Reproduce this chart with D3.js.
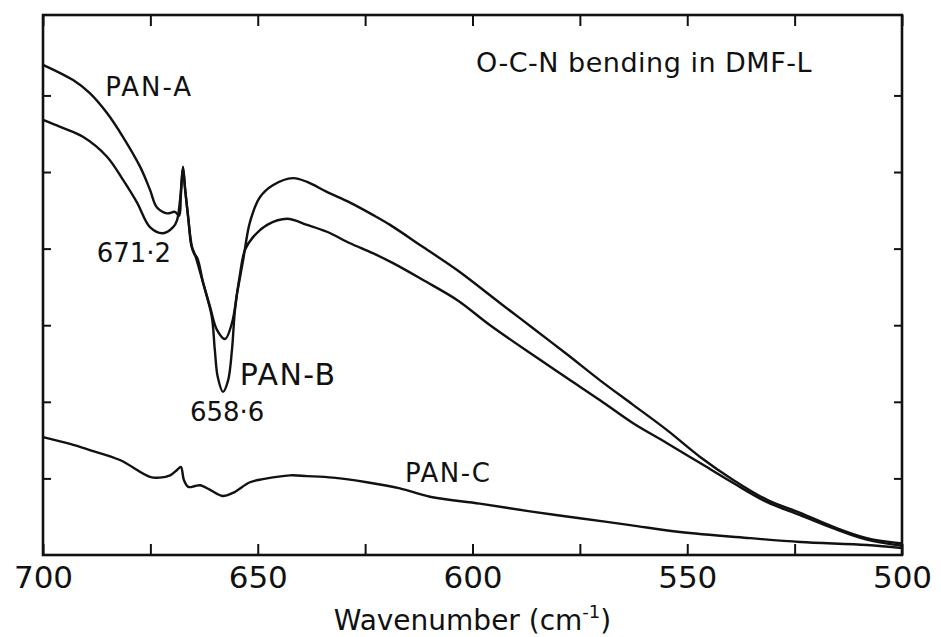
<!DOCTYPE html>
<html>
<head>
<meta charset="utf-8">
<script src="https://cdn.jsdelivr.net/npm/d3@7/dist/d3.min.js"></script>
<style>
  html, body { margin: 0; padding: 0; background: #fff; }
  svg { display: block; }
  text { font-family: "DejaVu Sans", sans-serif; fill: #111; }
</style>
</head>
<body>
<svg id="chart" width="941" height="637"></svg>
<script>
// ---- data (wavenumber in cm^-1, relative transmittance, arbitrary units) ----
const panA_wn  = [700, 693.0, 689.1, 685.1, 681.4, 677.4, 675.1, 673.5, 671.1, 669.3, 668.3, 667.9, 667.4, 666.9, 666.2, 665.3, 664.6, 662.7, 661.1, 659.5, 657.6, 656.0, 654.8, 653.4, 651.8, 649.5, 646.4, 641.8, 638.5, 633.9, 628.5, 623.2, 619.2, 611.5, 603.6, 593.6, 585.9, 578.0, 570.3, 562.6, 554.7, 547.0, 539.3, 531.4, 523.7, 516.1, 508.2, 500];
const panA_val = [6.40, 6.20, 6.03, 5.77, 5.46, 5.07, 4.77, 4.54, 4.46, 4.48, 4.43, 4.70, 5.07, 4.77, 4.41, 4.02, 3.92, 3.55, 3.24, 2.94, 2.82, 3.03, 3.42, 3.85, 4.35, 4.67, 4.83, 4.92, 4.87, 4.74, 4.60, 4.44, 4.31, 4.02, 3.72, 3.29, 2.96, 2.62, 2.28, 1.96, 1.63, 1.28, 0.98, 0.72, 0.55, 0.37, 0.22, 0.15];

const panB_wn  = [700, 696.0, 690.7, 685.1, 681.4, 678.1, 675.1, 672.1, 669.7, 668.8, 668.1, 667.4, 666.9, 666.2, 665.5, 664.8, 664.1, 662.7, 660.7, 660.0, 659.3, 658.1, 656.9, 656.0, 655.3, 654.1, 653.0, 651.1, 647.8, 643.2, 638.5, 633.9, 628.5, 623.2, 618.5, 611.5, 603.6, 595.9, 585.9, 578.0, 570.3, 562.6, 554.7, 547.0, 539.3, 531.4, 523.7, 516.1, 508.2, 500];
const panB_val = [5.68, 5.59, 5.46, 5.20, 4.90, 4.60, 4.28, 4.20, 4.28, 4.37, 4.63, 5.04, 4.77, 4.41, 4.05, 3.93, 3.88, 3.55, 3.11, 2.68, 2.32, 2.13, 2.28, 2.68, 3.20, 3.68, 3.98, 4.15, 4.31, 4.39, 4.31, 4.22, 4.07, 3.94, 3.81, 3.59, 3.33, 3.00, 2.61, 2.31, 2.02, 1.72, 1.46, 1.20, 0.94, 0.69, 0.52, 0.35, 0.20, 0.12];

const panC_wn  = [700, 693.7, 689.1, 682.1, 675.1, 672.8, 670.4, 668.8, 667.9, 667.2, 666.2, 664.6, 663.4, 661.1, 658.1, 655.8, 651.8, 648.8, 642.5, 638.5, 632.5, 624.6, 616.9, 609.9, 598.3, 586.6, 575.0, 563.3, 551.7, 535.4, 523.7, 508.2, 500];
const panC_val = [1.54, 1.45, 1.37, 1.24, 1.02, 1.01, 1.04, 1.11, 1.15, 0.98, 0.89, 0.90, 0.91, 0.85, 0.77, 0.81, 0.95, 0.99, 1.04, 1.03, 1.01, 0.95, 0.87, 0.76, 0.67, 0.57, 0.48, 0.39, 0.30, 0.22, 0.17, 0.13, 0.09];

const xTicks = [700, 675, 650, 625, 600, 575, 550, 525, 500];
const xTickLabels = ["700", "", "650", "", "600", "", "550", "", "500"];
const yTicks = [1, 2, 3, 4, 5, 6];

const seriesNames = ["PAN-A", "PAN-B", "PAN-C"];
const title = "O-C-N bending in DMF-L";
const peakLabels = ["671·2", "658·6"];

// ---- layout ----
const svg = d3.select("#chart");
const L = 43, R = 902, T = 15, B = 555;

const x = d3.scaleLinear().domain([700, 500]).range([L, R]);
const y = d3.scaleLinear().domain([0, 7.05]).range([B, T]);

const series = [
  panA_wn.map((w, i) => [w, panA_val[i]]),
  panB_wn.map((w, i) => [w, panB_val[i]]),
  panC_wn.map((w, i) => [w, panC_val[i]])
];

const line = d3.line()
  .x(d => x(d[0]))
  .y(d => y(d[1]))
  .curve(d3.curveCatmullRom.alpha(0.5));

svg.append("g")
  .selectAll("path")
  .data(series)
  .join("path")
  .attr("d", line)
  .attr("fill", "none")
  .attr("stroke", "#111")
  .attr("stroke-width", 2.4)
  .attr("stroke-linejoin", "round");

// axes
const fmt = (d) => xTickLabels[xTicks.indexOf(d)];
const xb = svg.append("g").attr("transform", `translate(0,${B})`)
  .call(d3.axisBottom(x).tickValues(xTicks).tickSize(-11).tickPadding(11).tickFormat(fmt));
const xt = svg.append("g").attr("transform", `translate(0,${T})`)
  .call(d3.axisTop(x).tickValues(xTicks).tickSize(-11).tickFormat(""));
const yl = svg.append("g").attr("transform", `translate(${L},0)`)
  .call(d3.axisLeft(y).tickValues(yTicks).tickSize(-8).tickFormat(""));
const yr = svg.append("g").attr("transform", `translate(${R},0)`)
  .call(d3.axisRight(y).tickValues(yTicks).tickSize(-8).tickFormat(""));

[xb, xt, yl, yr].forEach(g => {
  g.select(".domain").remove();
  g.selectAll(".tick line").attr("stroke", "#111").attr("stroke-width", 2);
});
xb.selectAll(".tick text")
  .attr("font-size", 31)
  .attr("font-family", "DejaVu Sans")
  .attr("fill", "#111");

// frame
svg.append("rect")
  .attr("x", L).attr("y", T)
  .attr("width", R - L).attr("height", B - T)
  .attr("fill", "none")
  .attr("stroke", "#111")
  .attr("stroke-width", 2.6);

// annotations
const ann = svg.append("g");
ann.append("text").attr("x", x(685.5)).attr("y", y(5.99)).attr("font-size", 26).attr("letter-spacing", 2).text(seriesNames[0]);
ann.append("text").attr("x", x(654.2)).attr("y", y(2.22)).attr("font-size", 30).attr("letter-spacing", 1.5).text(seriesNames[1]);
ann.append("text").attr("x", x(615.7)).attr("y", y(0.95)).attr("font-size", 26).attr("letter-spacing", 1.5).text(seriesNames[2]);
ann.append("text").attr("x", x(687.5)).attr("y", y(3.82)).attr("font-size", 26).text(peakLabels[0]);
ann.append("text").attr("x", x(665.8)).attr("y", y(1.75)).attr("font-size", 26).text(peakLabels[1]);
ann.append("text").attr("x", x(599.2)).attr("y", y(6.3)).attr("font-size", 27).attr("letter-spacing", 0.5).text(title);

// x-axis title
const xt2 = svg.append("text")
  .attr("x", (L + R) / 2)
  .attr("y", 630)
  .attr("text-anchor", "middle")
  .attr("font-size", 28);
xt2.append("tspan").text("Wavenumber (cm");
xt2.append("tspan").attr("dy", -12).attr("font-size", 18).text("-1");
xt2.append("tspan").attr("dy", 12).text(")");
</script>
</body>
</html>
